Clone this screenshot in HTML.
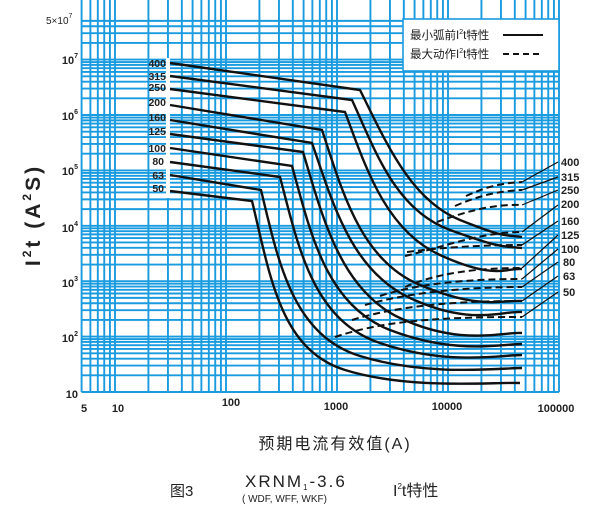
<!DOCTYPE html>
<html><head><meta charset="utf-8"><style>
body{margin:0;background:#fff;width:600px;height:519px;overflow:hidden}
svg text{font-family:"Liberation Sans","Noto Sans CJK SC",sans-serif}
</style></head><body>
<svg id="s" width="600" height="519" viewBox="0 0 600 519" xmlns="http://www.w3.org/2000/svg">
<g id="grid" stroke="#1a9be0" stroke-width="1.9"></g>
<rect x="403" y="19" width="156" height="52" fill="#fff" stroke="#1a9be0" stroke-width="1.6"/>
<text x="410" y="39" font-size="11.5" fill="#222">最小弧前I<tspan font-size="7" dy="-5">2</tspan><tspan dy="5">t特性</tspan></text>
<line x1="503" y1="35" x2="543" y2="35" stroke="#111" stroke-width="2"/>
<text x="410" y="58" font-size="11.5" fill="#222">最大动作I<tspan font-size="7" dy="-5">2</tspan><tspan dy="5">t特性</tspan></text>
<line x1="503" y1="54" x2="543" y2="54" stroke="#111" stroke-width="2" stroke-dasharray="6,4"/>
<rect x="166" y="58" width="4" height="140" fill="#fff"/>
<g font-size="10.5" font-weight="bold" fill="#222" text-anchor="end">
<text x="166" y="67">400</text><text x="166" y="80">315</text><text x="166" y="91">250</text>
<text x="166" y="106">200</text><text x="166" y="121">160</text><text x="166" y="135">125</text>
<text x="166" y="152">100</text><text x="164" y="165">80</text><text x="164" y="179">63</text><text x="164" y="192">50</text>
</g>
<g fill="none" stroke="#111" stroke-width="2.4">
<path d="M170,63 L360,90 C385,140 410,200 460,220 S505,234 522,237"/>
<path d="M170,76 L352,100 C375,150 395,210 450,230 S505,246 522,248"/>
<path d="M170,89 L345,112 C365,165 385,230 440,255 S505,268 522,269"/>
<path d="M170,105 L322,130 C342,190 360,260 420,285 S500,300 522,301"/>
<path d="M170,120 L312,143 C332,200 350,270 410,298 S500,311 522,312"/>
<path d="M170,134 L303,152 C322,215 340,290 400,318 S500,332 522,333"/>
<path d="M170,148 L292,166 C310,230 325,305 390,330 S500,344 522,344"/>
<path d="M170,162 L280,177 C298,245 312,320 380,343 S500,355 522,355"/>
<path d="M170,175 L261,190 C278,260 292,335 360,356 S500,368 522,368"/>
<path d="M170,191 L252,201 C270,275 280,350 345,370 S490,382 520,383"/>
</g>
<g fill="none" stroke="#111" stroke-width="2" stroke-dasharray="7,4">
<path d="M466,196 C490,185 505,183 522,182"/>
<path d="M455,206 C480,195 500,191 522,190"/>
<path d="M437,222 C470,210 495,204 522,205"/>
<path d="M405,256 C440,248 480,232 522,232"/>
<path d="M407,252 C445,247 485,245 522,245"/>
<path d="M405,287 C440,272 480,268 522,268"/>
<path d="M380,296 C420,283 470,279 522,279"/>
<path d="M365,305 C410,292 470,287 522,287"/>
<path d="M352,320 C400,305 460,301 522,301"/>
<path d="M335,337 C380,322 430,317 522,317"/>
</g>
<g stroke="#111" stroke-width="1.2">
<line x1="522" y1="182" x2="558" y2="162"/><line x1="522" y1="190" x2="558" y2="177"/>
<line x1="522" y1="205" x2="558" y2="190"/><line x1="522" y1="232" x2="558" y2="205"/>
<line x1="522" y1="245" x2="558" y2="221"/><line x1="522" y1="268" x2="558" y2="235"/>
<line x1="522" y1="279" x2="558" y2="249"/><line x1="522" y1="287" x2="558" y2="262"/>
<line x1="522" y1="301" x2="558" y2="276"/><line x1="522" y1="317" x2="558" y2="292"/>
</g>
<g font-size="11" font-weight="bold" fill="#222">
<text x="561" y="166">400</text><text x="561" y="181">315</text><text x="561" y="194">250</text>
<text x="561" y="208">200</text><text x="561" y="225">160</text><text x="561" y="239">125</text>
<text x="561" y="253">100</text><text x="563" y="266">80</text><text x="563" y="280">63</text><text x="563" y="296">50</text>
</g>
<g font-size="11" font-weight="bold" fill="#222" text-anchor="end">
<text x="78" y="398">10</text>
<text x="78" y="342">10<tspan font-size="7" dy="-6">2</tspan></text>
<text x="78" y="287">10<tspan font-size="7" dy="-6">3</tspan></text>
<text x="78" y="232">10<tspan font-size="7" dy="-6">4</tspan></text>
<text x="78" y="175">10<tspan font-size="7" dy="-6">5</tspan></text>
<text x="78" y="120">10<tspan font-size="7" dy="-6">6</tspan></text>
<text x="78" y="64">10<tspan font-size="7" dy="-6">7</tspan></text>
</g>
<text x="46" y="24" font-size="10" fill="#222">5×10<tspan font-size="7" dy="-6">7</tspan></text>
<g font-size="11" font-weight="bold" fill="#222" text-anchor="middle">
<text x="84" y="412">5</text><text x="118" y="412">10</text><text x="231" y="406">100</text>
<text x="336" y="410">1000</text><text x="447" y="410">10000</text><text x="556" y="412">100000</text>
</g>
<text transform="translate(40,215) rotate(-90)" font-size="21" font-weight="bold" fill="#222" text-anchor="middle" letter-spacing="3">I<tspan font-size="12" dy="-9">2</tspan><tspan dy="9">t (A</tspan><tspan font-size="12" dy="-9">2</tspan><tspan dy="9">S)</tspan></text>
<text x="335" y="449" font-size="16" fill="#222" text-anchor="middle" letter-spacing="2">预期电流有效值(A)</text>
<text x="170" y="496" font-size="15" fill="#222">图3</text>
<text x="245" y="487" font-size="17" fill="#222" letter-spacing="2">XRNM<tspan font-size="8" dy="3">1</tspan><tspan dy="-3">-3.6</tspan></text>
<text x="242" y="502" font-size="10" fill="#222">( WDF, WFF, WKF)</text>
<text x="393" y="496" font-size="16" fill="#222">I<tspan font-size="8" dy="-7">2</tspan><tspan dy="7">t特性</tspan></text>
</svg>
<script>
var g=document.getElementById('grid'),NS='http://www.w3.org/2000/svg';
function X(v){return 115+111*Math.log10(v/10);}
function Y(v){return 392-55.4*(Math.log10(v)-1);}
function ln(a,b,c,d){var l=document.createElementNS(NS,'line');l.setAttribute('x1',a);l.setAttribute('y1',b);l.setAttribute('x2',c);l.setAttribute('y2',d);g.appendChild(l);}
var top=Y(5e7);
for(var k=0;k<=5;k++)for(var m=1;m<=9;m++){var v=m*Math.pow(10,k);if(v<5||v>1e5)continue;var x=X(v);ln(x,top,x,392);}
for(var k=1;k<=7;k++)for(var m=1;m<=9;m++){var v=m*Math.pow(10,k);if(v>5e7)continue;var y=Y(v);ln(X(5),y,X(1e5),y);}
</script>
</body></html>
